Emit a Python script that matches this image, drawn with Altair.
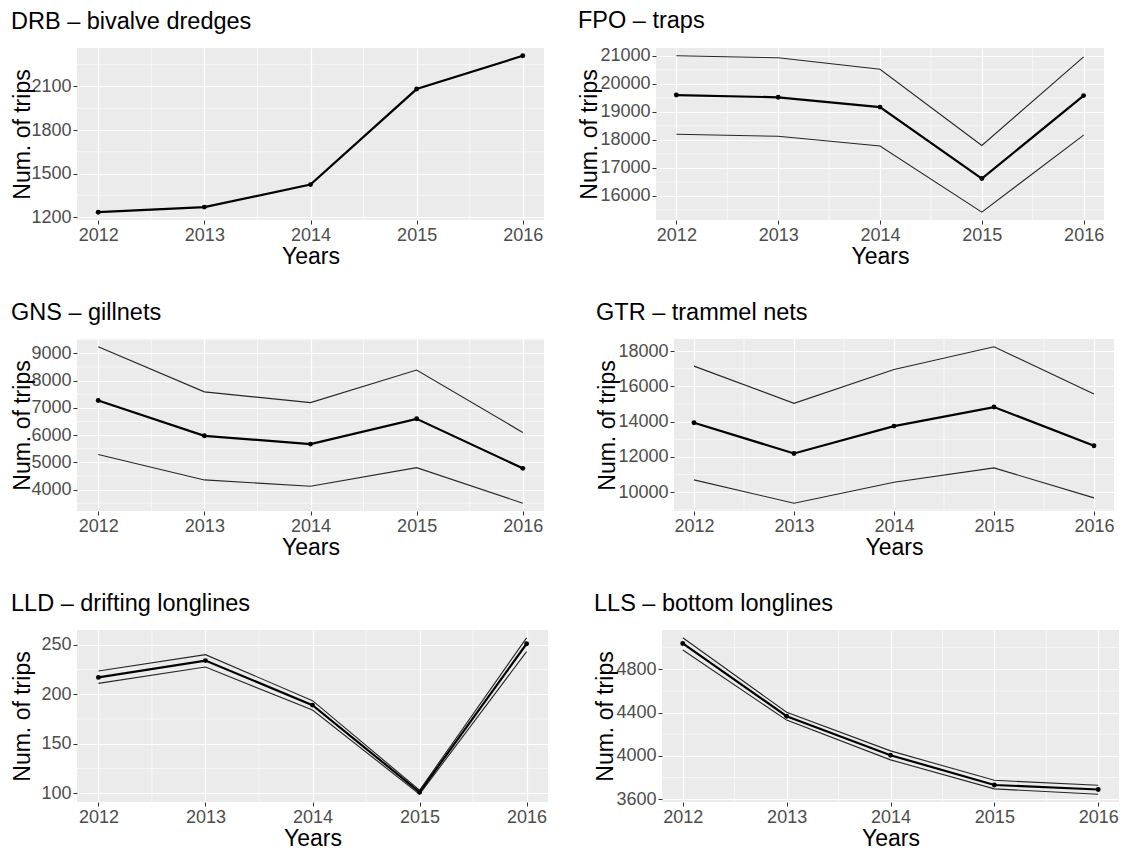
import altair as alt
import pandas as pd

years = [2012, 2013, 2014, 2015, 2016]
x_minor = [2012.5, 2013.5, 2014.5, 2015.5]

drb_title = "DRB – bivalve dredges"
drb_mid = [1234, 1269, 1424, 2082, 2311]
drb_ticks = [1200, 1500, 1800, 2100]

fpo_title = "FPO – traps"
fpo_mid = [19600, 19520, 19170, 16620, 19580]
fpo_hi = [21000, 20930, 20520, 17800, 20965]
fpo_lo = [18200, 18130, 17780, 15420, 18170]
fpo_ticks = [16000, 17000, 18000, 19000, 20000, 21000]

gns_title = "GNS – gillnets"
gns_mid = [7270, 5975, 5670, 6600, 4780]
gns_hi = [9245, 7590, 7195, 8390, 6100]
gns_lo = [5290, 4355, 4120, 4805, 3500]
gns_ticks = [4000, 5000, 6000, 7000, 8000, 9000]

gtr_title = "GTR – trammel nets"
gtr_mid = [13940, 12200, 13750, 14830, 12640]
gtr_hi = [17150, 15040, 16960, 18245, 15570]
gtr_lo = [10700, 9380, 10570, 11380, 9680]
gtr_ticks = [10000, 12000, 14000, 16000, 18000]

lld_title = "LLD – drifting longlines"
lld_mid = [217, 234, 189, 101, 251]
lld_hi = [223.5, 240, 193.5, 103, 257]
lld_lo = [211, 227.5, 184, 99, 243]
lld_ticks = [100, 150, 200, 250]

lls_title = "LLS – bottom longlines"
lls_mid = [5038, 4366, 4006, 3731, 3689]
lls_hi = [5090, 4403, 4046, 3774, 3728]
lls_lo = [4977, 4330, 3963, 3695, 3646]
lls_ticks = [3600, 4000, 4400, 4800]

FONT = "Liberation Sans"


def panel(title, mid, hi, lo, ticks, width, extent, tpad):
    recs = [{"year": y, "value": v, "band": "mid"} for y, v in zip(years, mid)]
    band_recs = []
    if hi is not None:
        band_recs += [{"year": y, "value": v, "band": "hi"} for y, v in zip(years, hi)]
        band_recs += [{"year": y, "value": v, "band": "lo"} for y, v in zip(years, lo)]
    vals = list(mid) + (list(hi) + list(lo) if hi is not None else [])
    vmin, vmax = min(vals), max(vals)
    pad = 0.05 * (vmax - vmin)
    dom = [vmin - pad, vmax + pad]
    step = ticks[1] - ticks[0]
    y_minor = []
    m = ticks[0] - step / 2
    while m <= dom[1]:
        if m >= dom[0]:
            y_minor.append(m)
        m += step

    xscale = alt.Scale(domain=[2011.8, 2016.2], nice=False, zero=False)
    yscale = alt.Scale(domain=dom, nice=False, zero=False)

    xaxis = alt.Axis(values=years, format="d", title="Years", labelPadding=2,
                     titlePadding=1)
    yaxis = alt.Axis(values=ticks, format="d", title="Num. of trips",
                     minExtent=extent, maxExtent=extent, titlePadding=tpad)

    X = alt.X("year:Q", scale=xscale, axis=xaxis)
    Y = alt.Y("value:Q", scale=yscale, axis=yaxis)

    xminor_layer = alt.Chart(pd.DataFrame({"year": x_minor})).mark_rule(
        color="white", strokeWidth=0.6
    ).encode(x=X)
    yminor_layer = alt.Chart(pd.DataFrame({"value": y_minor})).mark_rule(
        color="white", strokeWidth=0.6
    ).encode(y=Y)

    base_mid = alt.Chart(pd.DataFrame(recs))
    mid_line = base_mid.mark_line(color="black", strokeWidth=2.2).encode(x=X, y=Y)
    mid_pts = base_mid.mark_point(filled=True, color="black", size=24, opacity=1).encode(x=X, y=Y)
    layers = [xminor_layer, yminor_layer]
    if band_recs:
        band_line = alt.Chart(pd.DataFrame(band_recs)).mark_line(
            color="#262626", strokeWidth=1.1
        ).encode(x=X, y=Y, detail="band:N")
        layers.append(band_line)
    layers += [mid_line, mid_pts]
    return alt.layer(*layers).properties(
        width=width, height=172,
        title=alt.TitleParams(title, anchor="start", frame="bounds", fontSize=23.5,
                              font=FONT, fontWeight="normal", color="black",
                              offset=14.5),
    )


drb = panel(drb_title, drb_mid, None, None, drb_ticks, 467, 43, 0)
fpo = panel(fpo_title, fpo_mid, fpo_hi, fpo_lo, fpo_ticks, 448, 55, 0)
gns = panel(gns_title, gns_mid, gns_hi, gns_lo, gns_ticks, 467, 43, 0)
gtr = panel(gtr_title, gtr_mid, gtr_hi, gtr_lo, gtr_ticks, 440, 55, 0)
lld = panel(lld_title, lld_mid, lld_hi, lld_lo, lld_ticks, 471, 43, 0)
lls = panel(lls_title, lls_mid, lls_hi, lls_lo, lls_ticks, 457, 45, 0)

row1 = alt.hconcat(drb, fpo, spacing=33)
row2 = alt.hconcat(gns, gtr, spacing=51)
row3 = alt.hconcat(lld, lls, spacing=45)

chart = alt.vconcat(row1, row2, row3, spacing=32).properties(
    padding={"left": 3, "top": 0, "right": 0, "bottom": 0}, background="white"
).configure_view(
    fill="#EBEBEB", stroke=None
).configure_axis(
    domain=False,
    tickColor="#333333",
    tickSize=4,
    tickWidth=1,
    labelColor="#4D4D4D",
    labelFontSize=18,
    labelFont=FONT,
    titleFont=FONT,
    titleFontSize=23,
    titleFontWeight="normal",
    titleColor="black",
    gridColor="white",
    gridWidth=1.2,
    gridOpacity=1,
    labelPadding=2,
)

chart.save("out.html", embed_options={"renderer": "svg", "actions": False})
